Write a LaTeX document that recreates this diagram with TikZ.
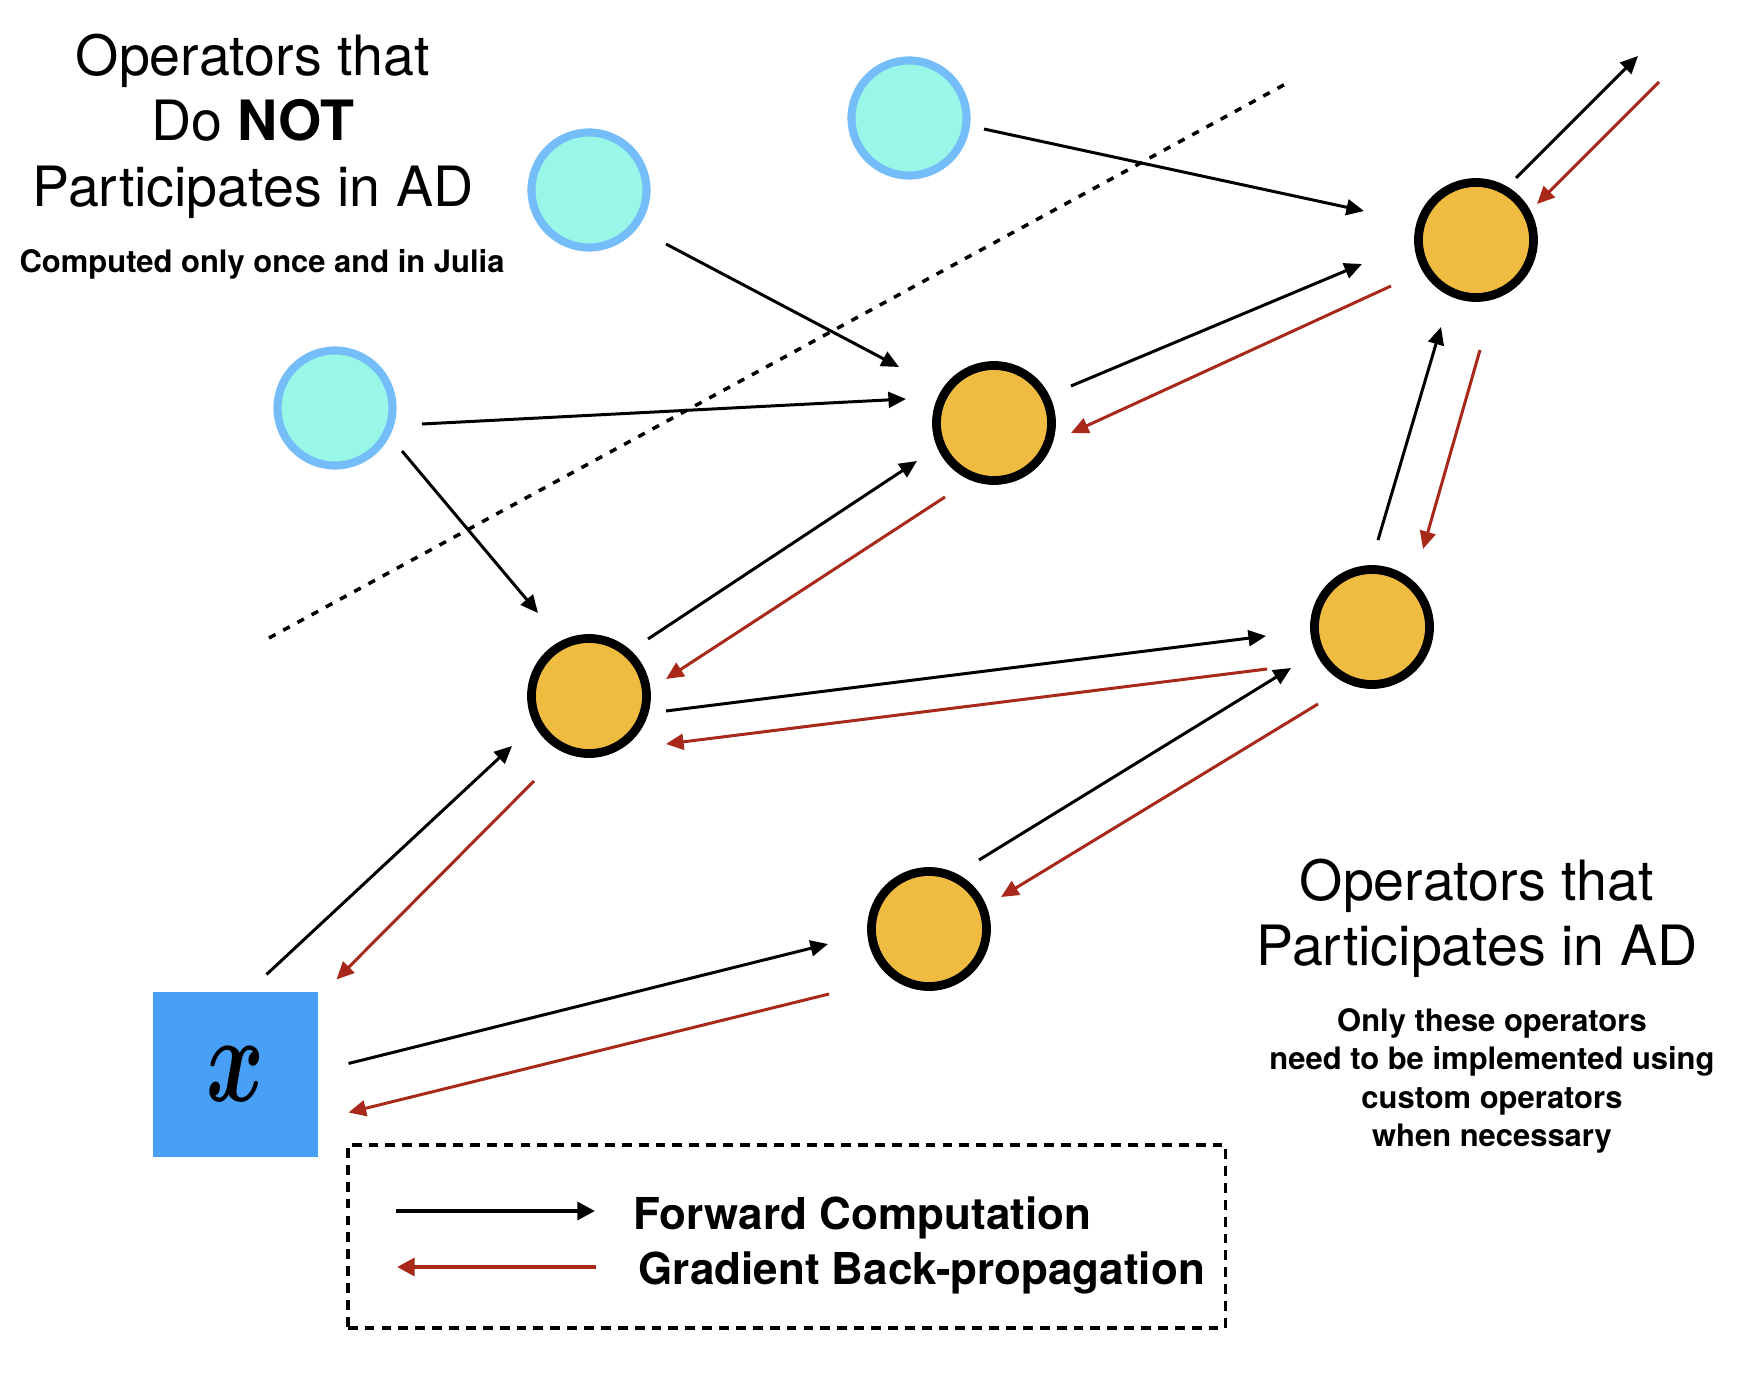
\documentclass[tikz,border=0pt]{standalone}
\usepackage{fontspec}
\setmainfont{TeX Gyre Heros}
\usetikzlibrary{arrows.meta,calc}

\definecolor{opfill}{RGB}{239,187,65}
\definecolor{cstfill}{RGB}{153,247,232}
\definecolor{cstline}{RGB}{117,189,249}
\definecolor{xblue}{RGB}{71,160,246}
\definecolor{gradred}{RGB}{168,41,26}

\tikzset{
    op/.style={circle,draw=black,fill=opfill,line width=2.5pt,minimum size=1.15cm,inner sep=0pt},
    cst/.style={op,draw=cstline,fill=cstfill,line width=2.3pt},
    fwd/.style={-{Triangle[length=5pt,width=4.5pt]},line width=0.85pt},
    bwd/.style={fwd,gradred},
    bigtitle/.style={anchor=north,align=center,inner sep=0pt,font=\fontsize{15.8}{18.6}\selectfont},
    smalltext/.style={align=center,inner sep=0pt,font=\bfseries\fontsize{8.8}{10.9}\selectfont},
    legtext/.style={anchor=base west,inner sep=0pt,font=\bfseries\fontsize{12.5}{15}\selectfont}
}

\begin{document}
\begin{tikzpicture}[x=0.01cm,y=-0.01cm]
                \useasboundingbox (0,0) rectangle (1748,1382);
                % operators outside AD
                \node[cst] (c1) at (589,190) {};
                \node[cst] (c2) at (335,408) {};
                \node[cst] (c3) at (909,118) {};
                % operators inside AD
                \node[op] (a) at (589,696) {};
                \node[op] (b) at (994,423) {};
                \node[op] (c) at (1476,240) {};
                \node[op] (d) at (1372,627) {};
                \node[op] (e) at (929,929) {};
                \node[fill=xblue,minimum size=1.65cm,inner sep=0pt] (x) at (235.5,1074.5) {\scalebox{2.5}[3.5]{\boldmath$x$}};
                \coordinate (out) at (1638,56);
                \coordinate (in) at (1659,82);
                % boundary
                \coordinate (sepA) at (269,638);
                \coordinate (sepB) at (1291,81);
                \draw[line width=1pt,dash pattern={on 2.1pt off 2.5pt}] (sepA) -- (sepB);
                % forward
                \draw[fwd] ($(c1)+(77,54)$) -- ($(b)+(-95,-56)$);
                \draw[fwd] ($(c2)+(87,16)$) -- ($(b)+(-88,-24)$);
                \draw[fwd] ($(c2)+(67,43)$) -- ($(a)+(-51,-83)$);
                \draw[fwd] ($(c3)+(75,11)$) -- ($(c)+(-112,-29)$);
                \draw[fwd] ($(a)+(59,-57)$) -- ($(b)+(-77,38)$);
                \draw[fwd] ($(b)+(77,-37)$) -- ($(c)+(-114,24)$);
                \draw[fwd] ($(c)+(40,-62)$) -- (out);
                \draw[fwd] ($(d)+(6,-87)$) -- ($(c)+(-35,87)$);
                \draw[fwd] ($(a)+(77,15)$) -- ($(d)+(-106,9)$);
                \draw[fwd] ($(e)+(50,-69)$) -- ($(d)+(-81,41)$);
                \draw[fwd] ($(x)+(31,-100)$) -- ($(a)+(-77,50)$);
                \draw[fwd] ($(x)+(113,-11)$) -- ($(e)+(-101,15)$);
                % backward
                \draw[bwd] ($(c)+(-85,46)$) -- ($(b)+(77,10)$);
                \draw[bwd] ($(b)+(-49,74)$) -- ($(a)+(77,-17)$);
                \draw[bwd] (in) -- ($(c)+(61,-36)$);
                \draw[bwd] ($(c)+(4,110)$) -- ($(d)+(51,-78)$);
                \draw[bwd] ($(d)+(-105,42)$) -- ($(a)+(77,48)$);
                \draw[bwd] ($(d)+(-54,77)$) -- ($(e)+(72,-32)$);
                \draw[bwd] ($(a)+(-55,85)$) -- ($(x)+(101,-95)$);
                \draw[bwd] ($(e)+(-100,65)$) -- ($(x)+(113,38)$);
                % labels
                \node[bigtitle] (nottitle) at (253,33) {Operators that\\Do \textbf{NOT}\\Participates in AD};
                \node[smalltext,anchor=base] (nottext) at (262,273) {Computed only once and in Julia};
                \node[bigtitle] (adtitle) at (1477,858) {Operators that\\Participates in AD};
                \node[smalltext,anchor=north] (adtext) at (1492,1008) {Only these operators\\need to be implemented using\\custom operators\\when necessary};
                % legend
                \node[draw,line width=1pt,dash pattern={on 2.8pt off 2pt},minimum width=8.77cm,minimum height=1.83cm,inner sep=0pt] (legend) at (786.5,1236.5) {};
                \coordinate (fwdA) at (396,1211);
                \coordinate (fwdB) at (595,1211);
                \coordinate (bwdA) at (596,1267);
                \coordinate (bwdB) at (397,1267);
                \draw[fwd,line width=1.2pt,-{Triangle[length=5pt,width=5pt]}] (fwdA) -- (fwdB);
                \draw[bwd,line width=1.2pt,-{Triangle[length=5pt,width=5pt]}] (bwdA) -- (bwdB);
                \node[legtext] (fwdtext) at (633,1229) {Forward Computation};
                \node[legtext] (bwdtext) at (638,1284) {Gradient Back-propagation};
            \end{tikzpicture}
\end{document}
